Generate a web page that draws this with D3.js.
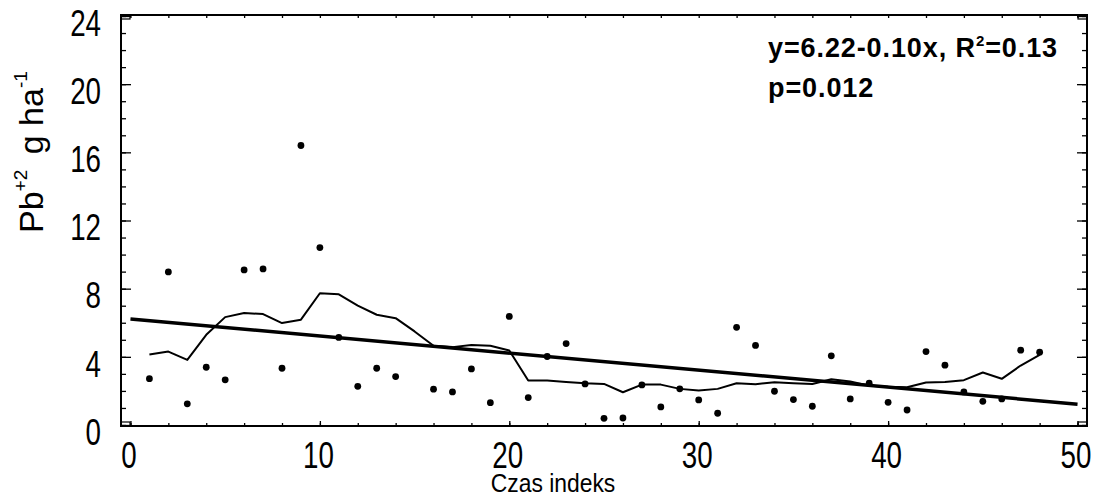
<!DOCTYPE html>
<html>
<head>
<meta charset="utf-8">
<script src="https://cdn.jsdelivr.net/npm/d3@7"></script>
<style>
  body { margin: 0; background: #fff; }
  svg { display: block; }
  .narrow { font-family: "Liberation Sans", Arial, sans-serif; }
</style>
</head>
<body>
<svg id="chart" width="1098" height="499"></svg>
<script>
// measured points (x = time index, y = Pb g/ha)
var pointX = [1, 2, 3, 4, 5, 6, 7, 8, 9, 10, 11, 12, 13, 14, 16, 17, 18, 19, 20, 21, 22, 23, 24, 25, 26, 27, 28, 29, 30, 31, 32, 33, 34, 35, 36, 37, 38, 39, 40, 41, 42, 43, 44, 45, 46, 47, 48];
var pointY = [2.72, 8.98, 1.24, 3.39, 2.65, 9.10, 9.16, 3.33, 16.4, 10.41, 5.14, 2.27, 3.33, 2.84, 2.10, 1.94, 3.29, 1.31, 6.37, 1.61, 4.02, 4.78, 2.41, 0.39, 0.41, 2.35, 1.06, 2.12, 1.47, 0.69, 5.73, 4.67, 1.98, 1.49, 1.10, 4.06, 1.53, 2.45, 1.33, 0.88, 4.31, 3.51, 1.94, 1.39, 1.53, 4.39, 4.27];

// smoothed (moving average) line
var smoothX = [1, 2, 3, 4, 5, 6, 7, 8, 9, 10, 11, 12, 13, 14, 15, 16, 17, 18, 19, 20, 21, 22, 23, 24, 25, 26, 27, 28, 29, 30, 31, 32, 33, 34, 35, 36, 37, 38, 39, 40, 41, 42, 43, 44, 45, 46, 47, 48];
var smoothY = [4.14, 4.31, 3.82, 5.29, 6.33, 6.57, 6.51, 5.98, 6.18, 7.73, 7.67, 7.00, 6.47, 6.27, 5.49, 4.65, 4.57, 4.70, 4.65, 4.37, 2.61, 2.61, 2.53, 2.45, 2.41, 1.92, 2.37, 2.37, 2.12, 2.02, 2.12, 2.45, 2.39, 2.51, 2.45, 2.41, 2.69, 2.55, 2.31, 2.25, 2.22, 2.49, 2.53, 2.63, 3.08, 2.71, 3.49, 4.12];

// regression line y=6.22-0.10x
var regX = [0, 50];
var regY = [6.22, 1.22];

var xTicks = [0, 10, 20, 30, 40, 50];
var xMinor = d3.range(0, 51, 2);
var yTicks = [0, 4, 8, 12, 16, 20, 24];
var yMinor = d3.range(0, 25, 1);

var svg = d3.select('#chart');
var mLeft = 121, mRight = 1087, mTop = 15, mBottom = 426;
var squeeze = 0.75;

var x = d3.scaleLinear().domain([-0.5, 50.5]).range([mLeft, mRight]);
var y = d3.scaleLinear().domain([0, 24]).range([425, 16]);

// frame
svg.append('rect').attr('x', mLeft).attr('y', mTop).attr('width', mRight - mLeft).attr('height', mBottom - mTop)
  .attr('fill', 'none').attr('stroke', '#000').attr('stroke-width', 2);

// small boxes in the corners
[[mLeft, mTop], [mRight - 9, mTop], [mLeft, mBottom - 4], [mRight - 9, mBottom - 4]].forEach(function(c) {
  svg.append('rect').attr('x', c[0]).attr('y', c[1]).attr('width', 9).attr('height', 4)
    .attr('fill', 'none').attr('stroke', '#000').attr('stroke-width', 1.2);
});

function styleAxis(g) {
  g.select('.domain').remove();
  g.selectAll('.tick line').attr('stroke', '#000').attr('stroke-width', 1.3);
}

// y axes
svg.append('g').attr('transform', 'translate(' + mLeft + ',0)')
  .call(d3.axisLeft(y).tickValues(yMinor).tickSize(-5).tickFormat('')).call(styleAxis);
svg.append('g').attr('class', 'narrow').attr('transform', 'translate(' + mLeft + ',0)')
  .call(d3.axisLeft(y).tickValues(yTicks).tickSize(-10).tickFormat(d3.format('d')))
  .call(styleAxis)
  .selectAll('text').attr('font-size', 37).attr('fill', '#000')
  .attr('x', 0).attr('dy', '0.52em')
  .attr('transform', 'translate(-20,0) scale(' + squeeze + ',1)');
svg.append('g').attr('transform', 'translate(' + mRight + ',0)')
  .call(d3.axisRight(y).tickValues(yMinor).tickSize(-5).tickFormat('')).call(styleAxis);
svg.append('g').attr('transform', 'translate(' + mRight + ',0)')
  .call(d3.axisRight(y).tickValues(yTicks).tickSize(-10).tickFormat('')).call(styleAxis);

// x axes
svg.append('g').attr('transform', 'translate(0,' + mBottom + ')')
  .call(d3.axisBottom(x).tickValues(xMinor).tickSize(-3).tickFormat('')).call(styleAxis);
svg.append('g').attr('class', 'narrow').attr('transform', 'translate(0,' + mBottom + ')')
  .call(d3.axisBottom(x).tickValues(xTicks).tickSize(-5).tickFormat(d3.format('d')))
  .call(styleAxis)
  .selectAll('text').attr('font-size', 37).attr('fill', '#000')
  .attr('y', 42).attr('dy', 0)
  .attr('transform', 'translate(-2,0) scale(' + squeeze + ',1)');
svg.append('g').attr('transform', 'translate(0,' + mTop + ')')
  .call(d3.axisTop(x).tickValues(xMinor).tickSize(-3).tickFormat('')).call(styleAxis);

// regression
var line = d3.line().x(function(d) { return x(d[0]); }).y(function(d) { return y(d[1]); });
svg.append('path').datum(d3.zip(regX, regY)).attr('d', line)
  .attr('fill', 'none').attr('stroke', '#000').attr('stroke-width', 3.5);

// smooth
svg.append('path').datum(d3.zip(smoothX, smoothY)).attr('d', line)
  .attr('fill', 'none').attr('stroke', '#000').attr('stroke-width', 2).attr('stroke-linejoin', 'round');

// points
svg.append('g').selectAll('circle').data(d3.zip(pointX, pointY)).enter().append('circle')
  .attr('cx', function(d) { return x(d[0]); }).attr('cy', function(d) { return y(d[1]); })
  .attr('r', 3.4).attr('fill', '#000');

// axis titles
svg.append('text').attr('class', 'narrow').attr('transform', 'translate(553,492) scale(0.88,1)')
  .attr('text-anchor', 'middle').attr('font-size', 26).text('Czas indeks');

var yl = svg.append('text').attr('transform', 'translate(43,233) rotate(-90)')
  .attr('font-family', 'Liberation Sans, Arial, sans-serif').attr('font-size', 34);
yl.append('tspan').text('Pb');
yl.append('tspan').attr('font-size', 19).attr('dy', -16).text('+2');
yl.append('tspan').attr('dy', 16).attr('dx', 6).text(' g  ha');
yl.append('tspan').attr('font-size', 19).attr('dy', -16).text('-1');

// annotation
var ann = svg.append('text').attr('x', 768).attr('y', 57)
  .attr('font-family', 'Liberation Sans, Arial, sans-serif').attr('font-weight', 'bold').attr('font-size', 27)
  .attr('letter-spacing', 0.9);
ann.append('tspan').text('y=6.22-0.10x,  R');
ann.append('tspan').attr('font-size', 15).attr('dy', -11).text('2');
ann.append('tspan').attr('dy', 11).text('=0.13');
svg.append('text').attr('x', 768).attr('y', 97)
  .attr('font-family', 'Liberation Sans, Arial, sans-serif').attr('font-weight', 'bold').attr('font-size', 27)
  .attr('letter-spacing', 0.9).text('p=0.012');
</script>
</body>
</html>
